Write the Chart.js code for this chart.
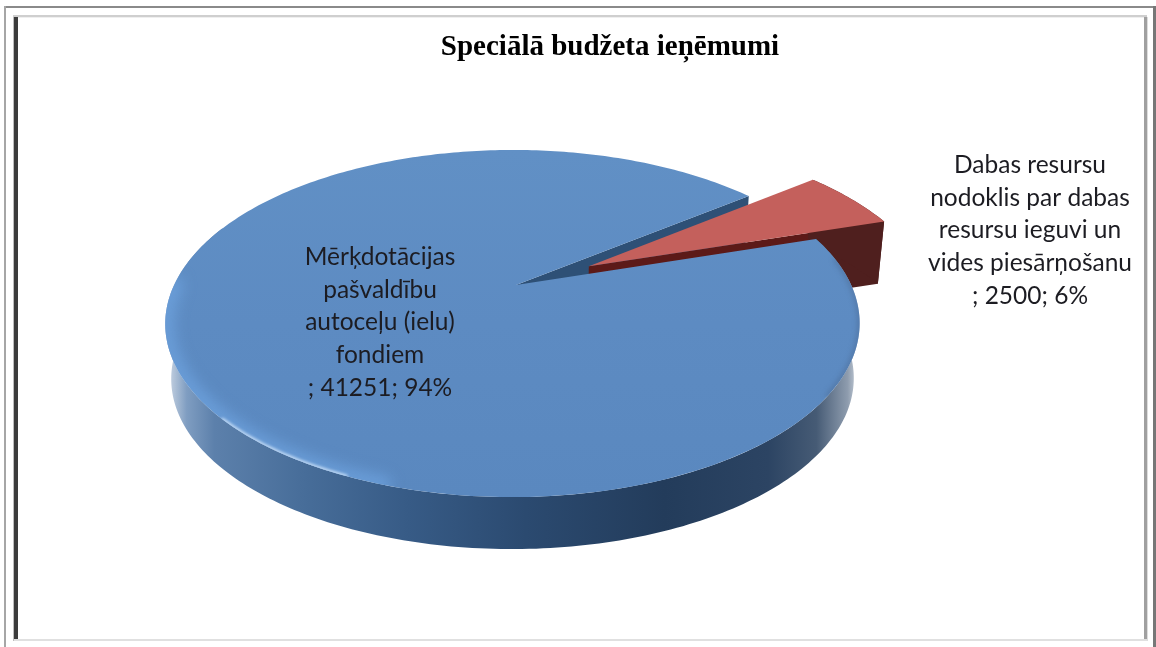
<!DOCTYPE html>
<html><head><meta charset="utf-8">
<style>html,body{margin:0;padding:0;background:#fff}canvas{display:block}</style>
<script src="https://cdn.jsdelivr.net/npm/chart.js@4"></script>
</head><body><canvas id="c" width="1156" height="647"></canvas>
<script>
const chartTitle = 'Speciālā budžeta ieņēmumi';
const categories = ['Mērķdotācijas pašvaldību autoceļu (ielu) fondiem', 'Dabas resursu nodoklis par dabas resursu ieguvi un vides piesārņošanu'];
const values = [41251, 2500];
const labelLinesBlue = ['Mērķdotācijas', 'pašvaldību', 'autoceļu (ielu)', 'fondiem'];
const labelLinesRed = ['Dabas resursu', 'nodoklis par dabas', 'resursu ieguvi un', 'vides piesārņošanu'];
const topColors = ['#5e8cc3', '#c4605c'];
const startRotation = 72.5;
const explodeOffsets = [0, 0.25];
const radiusFactors = [1, 1.03];

// perspective view of the disc
const V = {x0: 516, y0: 285, a: 338.5, b: 165, k: 0.222, m: -0.01, depth: 55.6, shrink: 0.983};
function proj(u, v, t) {
  const s = t ? V.shrink : 1, w = 1 - V.k * v - V.m * u;
  return [V.x0 + V.a * s * u / w, V.y0 + (t ? V.depth * t : 0) + V.b * s * v / w];
}
function arcPts(a0, a1, ox, oy, t, rf) {
  const n = Math.max(2, Math.ceil(Math.abs(a1 - a0) * 60)), p = [], f = rf || 1;
  for (let i = 0; i <= n; i++) {
    const a = a0 + (a1 - a0) * i / n;
    p.push(proj(ox + f * Math.cos(a), oy + f * Math.sin(a), t));
  }
  return p;
}
function poly(ctx, pts) {
  ctx.beginPath();
  pts.forEach((q, i) => i ? ctx.lineTo(q[0], q[1]) : ctx.moveTo(q[0], q[1]));
  ctx.closePath();
}
const piePlugin = {
  id: 'perspectivePie',
  beforeDatasetDraw(chart, args) {
    const ctx = chart.ctx, arcs = args.meta.data;
    const geo = arcs.map((arc, i) => {
      const mid = (arc.startAngle + arc.endAngle) / 2, ex = explodeOffsets[i];
      return {s: arc.startAngle, e: arc.endAngle, ox: ex * Math.cos(mid), oy: ex * Math.sin(mid), f: radiusFactors[i]};
    });
    const B = geo[0], R = geo[1];
    ctx.save();
    // far cut wall of the blue slice
    const bc = proj(0, 0, 0), bcB = proj(0, 0, 1);
    const bEnd = proj(Math.cos(B.e), Math.sin(B.e), 0), bEndB = proj(Math.cos(B.e), Math.sin(B.e), 1);
    poly(ctx, [bc, bEnd, bEndB, bcB]); ctx.fillStyle = '#2e5076'; ctx.fill();
    // red walls
    const rc = proj(R.ox, R.oy, 0), rcB = proj(R.ox, R.oy, 1.1);
    const rTop = arcPts(R.s, R.e, R.ox, R.oy, 0, R.f), rBot = arcPts(R.s, R.e, R.ox, R.oy, 1.1, R.f);
    const ng = ctx.createLinearGradient(805, 0, 830, 0);
    ng.addColorStop(0, '#5c1a18'); ng.addColorStop(1, '#4f1f1e');
    poly(ctx, [rc, rTop[rTop.length - 1], rBot[rBot.length - 1], rcB]); ctx.fillStyle = ng; ctx.fill();
    poly(ctx, rTop.concat(rBot.slice().reverse())); ctx.fillStyle = '#4f1f1e'; ctx.fill();
    // red top
    poly(ctx, [rc].concat(rTop)); ctx.fillStyle = topColors[1]; ctx.fill();
    // blue outer wall
    const a0 = B.s, a1 = Math.PI * 1.12;
    const wall = arcPts(a0, a1, 0, 0, 0).concat(arcPts(a0, a1, 0, 0, 1).reverse());
    const g = ctx.createLinearGradient(166, 0, 858, 0);
    [[0.005, '#c3d0e0'], [0.03, '#7f9dc1'], [0.07, '#5c80ab'], [0.2, '#476d99'], [0.35, '#375b86'],
     [0.52, '#2b4a70'], [0.72, '#233c5b'], [0.87, '#2c4463'], [0.94, '#465b75'], [0.985, '#8e9cae'], [1, '#c8d0da']]
      .forEach(s => g.addColorStop(s[0], s[1]));
    poly(ctx, wall); ctx.fillStyle = g; ctx.fill();
    // blue top
    const bTopPts = [bc].concat(arcPts(B.s, B.e, 0, 0, 0));
    const tg = ctx.createLinearGradient(0, 150, 0, 497);
    tg.addColorStop(0, '#6190c5'); tg.addColorStop(0.5, '#5d8bc2'); tg.addColorStop(1, '#5a88bf');
    poly(ctx, bTopPts); ctx.fillStyle = tg; ctx.fill();
    // rim highlight, lower left
    ctx.save();
    poly(ctx, bTopPts); ctx.clip();
    ctx.lineCap = 'round';
    const rim = (from, to, color, width, blur) => {
      const p = arcPts(from, to, 0, 0, 0);
      ctx.beginPath(); p.forEach((q, i) => i ? ctx.lineTo(q[0], q[1]) : ctx.moveTo(q[0], q[1]));
      ctx.filter = 'blur(' + blur + 'px)'; ctx.strokeStyle = color; ctx.lineWidth = width; ctx.stroke();
    };
    rim(Math.PI * 0.6, Math.PI * 1.0, 'rgba(115,170,232,0.6)', 18, 7);
    rim(Math.PI * 0.63, Math.PI * 0.76, 'rgba(225,240,255,0.85)', 3, 1.5);
    rim(-Math.PI * 0.05, Math.PI * 0.2, 'rgba(70,100,140,0.45)', 5, 2.5);
    ctx.restore();
    ctx.restore();
    return false;
  },
  afterDraw(chart) {
    const ctx = chart.ctx, total = values.reduce((a, b) => a + b, 0);
    const draw = (lines, i, cx, y0, step) => {
      const all = lines.concat('; ' + values[i] + '; ' + Math.round(values[i] / total * 100) + '%');
      ctx.save();
      ctx.font = '24.5px Lato'; ctx.textAlign = 'center'; ctx.textBaseline = 'middle'; ctx.fillStyle = '#1c1c22';
      all.forEach((l, j) => ctx.fillText(l, cx, y0 + j * step));
      ctx.restore();
    };
    draw(labelLinesBlue, 0, 380, 257, 32.75);
    draw(labelLinesRed, 1, 1030, 165, 32.75);
  },
  beforeDraw(chart) {
    const ctx = chart.ctx;
    ctx.save();
    ctx.fillStyle = '#fff'; ctx.fillRect(0, 0, 1156, 647);
    const r = (x, y, w, h, c) => { ctx.fillStyle = c; ctx.fillRect(x, y, w, h); };
    r(4, 6, 1152, 2, '#8a8a8a'); r(4, 6, 2, 641, '#a6a6a6');
    r(13, 15, 1134, 2, '#cfcfcf'); r(13, 17, 1134, 1, '#efefef');
    r(14, 17, 4, 624, '#3c3c3c'); r(13, 17, 1, 624, '#bdbdbd');
    r(1144, 17, 3, 624, '#a0a0a0'); r(1147, 17, 1, 624, '#dddddd');
    r(1153, 6, 3, 641, '#777777');
    r(14, 639, 1133, 2, '#e0e0e0');
    ctx.restore();
  }
};
new Chart(document.getElementById('c'), {
  type: 'pie',
  data: {labels: categories, datasets: [{data: values, backgroundColor: topColors, borderWidth: 0, offset: [0, 40]}]},
  plugins: [piePlugin],
  options: {
    responsive: false, animation: false, rotation: startRotation,
    layout: {padding: {left: 64}},
    plugins: {
      legend: {display: false}, tooltip: {enabled: false},
      title: {display: true, fullSize: false, text: chartTitle, color: '#000',
        font: {family: 'Liberation Serif', size: 29, weight: 'bold'}, padding: {top: 30, bottom: 10}}
    }
  }
});
</script></body></html>
